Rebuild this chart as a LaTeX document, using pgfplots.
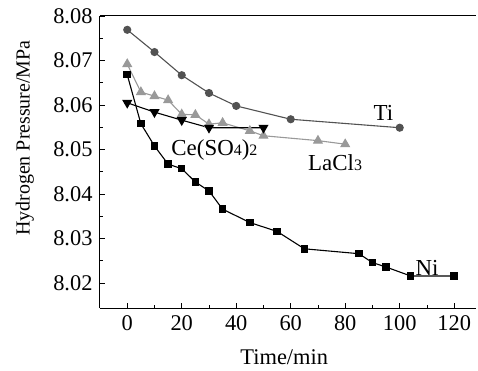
\documentclass[border=0pt]{standalone}
\usepackage{fontspec}
\setmainfont{Liberation Serif}
\usepackage{pgfplots}
\pgfplotsset{compat=1.18}
\usetikzlibrary{calc}

\pgfplotstableread{
t p
0 8.0769
10 8.0719
20 8.0667
30 8.0627
40 8.0598
60 8.0568
100 8.0549
}\ti
\pgfplotstableread{
t p
0 8.0692
5 8.0629
10 8.0620
15 8.0611
20 8.0579
25 8.0578
30 8.0557
35 8.0560
45 8.0542
50 8.0531
70 8.0520
80 8.0512
}\la
\pgfplotstableread{
t p
0 8.0605
10 8.0584
20 8.0566
30 8.0549
50 8.0549
}\ce
\pgfplotstableread{
t p
0 8.0668
5 8.0558
10 8.0508
15 8.0467
20 8.0457
25 8.0427
30 8.0407
35 8.0366
45 8.0336
55 8.0316
65 8.0277
85 8.0266
90 8.0246
95 8.0236
104 8.0216
120 8.0216
}\ni

\begin{document}
\fontsize{22}{26}\selectfont
\begin{tikzpicture}
\begin{axis}[
  name=ax,
  scale only axis, width=376bp, height=292bp,
  xmin=-10, xmax=128, ymin=8.0144, ymax=8.08,
  axis y line*=left,
  axis x line=box,
  xtick pos=bottom, ytick pos=left,
  tick align=inside,
  major tick length=5bp, minor tick length=3bp,
  xtick={0,20,...,120}, minor x tick num=1,
  ytick={8.02,8.03,8.04,8.05,8.06,8.07,8.08}, minor y tick num=1,
  /pgf/number format/assume math mode=true,
  yticklabel style={/pgf/number format/fixed, /pgf/number format/precision=2, /pgf/number format/fixed zerofill},
  scaled y ticks=false,
  tick label style={font=\fontsize{22.5}{26}\selectfont},
  axis line style={line width=1bp},
  every tick/.style={black, line width=0.8bp},
  xlabel={Time/min},
  ylabel={Hydrogen Pressure/MPa},
  xlabel style={at={(axis description cs:0.49,-0.168)}, anchor=center, font=\fontsize{22.5}{26}\selectfont},
  ylabel style={at={(axis description cs:-0.2,0.582)}, anchor=center, font=\fontsize{20}{24}\selectfont},
  clip=false,
]
\addplot[color=black!68, line width=1.1bp, mark=*, mark size=3.5bp] table[x=t,y=p]{\ti};
\addplot[color=black!40, line width=1.1bp, mark=triangle*, mark size=4.8bp] table[x=t,y=p]{\la};
\addplot[color=black, line width=1.1bp, mark=triangle*, mark size=4.8bp, mark options={rotate=180}] table[x=t,y=p]{\ce};
\addplot[color=black, line width=1.1bp, mark=square*, mark size=3.2bp] table[x=t,y=p]{\ni};
\node[font=\fontsize{23}{26}\selectfont] at (axis cs:94,8.0582) {Ti};
\node[font=\fontsize{23}{26}\selectfont] at (axis cs:76.3,8.0470) {LaCl{\fontsize{16}{16}\selectfont 3}};
\node[font=\fontsize{23}{26}\selectfont] at (axis cs:32,8.0499) {Ce(SO{\fontsize{16}{16}\selectfont 4}){\fontsize{16}{16}\selectfont 2}};
\node[font=\fontsize{23}{26}\selectfont] at (axis cs:110,8.0234) {Ni};
\end{axis}
\pgfresetboundingbox
\useasboundingbox (ax.south west) ++(-100bp,-63bp) rectangle ($(ax.south west)+(378bp,308bp)$);
\end{tikzpicture}
\end{document}
